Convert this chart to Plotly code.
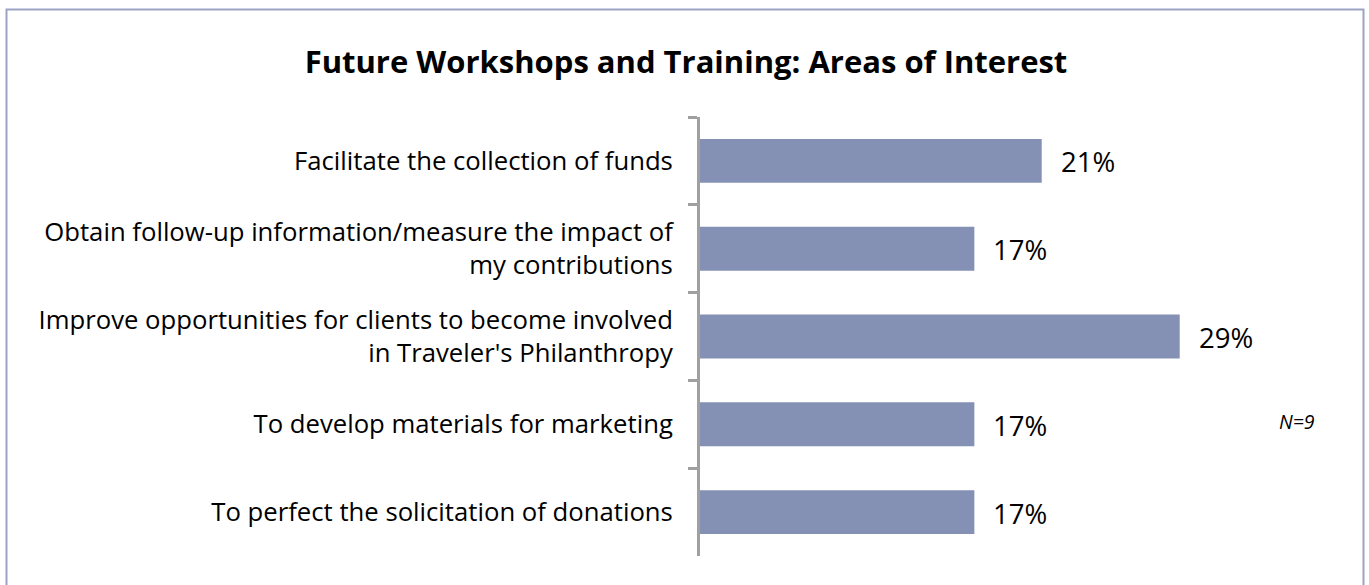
import plotly.graph_objects as go

categories = [
    "Facilitate the collection of funds",
    "Obtain follow-up information/measure the impact of<br>my contributions",
    "Improve opportunities for clients to become involved<br>in Traveler's Philanthropy",
    "To develop materials for marketing",
    "To perfect the solicitation of donations",
]
values = [20.8, 16.7, 29.2, 16.7, 16.7]
value_labels = ["21%", "17%", "29%", "17%", "17%"]

bar_color = "#8490B4"
font_family = "'Open Sans', 'Noto Sans', sans-serif"

fig = go.Figure()
fig.add_trace(go.Bar(
    y=categories, x=values, orientation="h",
    marker=dict(color=bar_color, line=dict(width=0)),
    hoverinfo="skip",
))

for c, v, t in zip(categories, values, value_labels):
    fig.add_annotation(x=v, y=c, text=t, showarrow=False, xanchor="left", yanchor="middle",
                       xshift=17, yshift=-1,
                       font=dict(size=27.5, color="#000000", family=font_family))

W, H = 1369, 585
L, R, T, B = 700, 94, 117, 29
pw, ph = W - L - R, H - T - B

def px_x(p):
    return (p - L) / pw

def px_y(p):
    return (H - B - p) / ph

fig.add_shape(type="rect", xref="paper", yref="paper",
              x0=px_x(6.5), x1=px_x(1363.5), y0=px_y(600), y1=px_y(9.5),
              line=dict(color="#9EA3C3", width=2), fillcolor="rgba(0,0,0,0)", layer="below")

fig.add_annotation(xref="paper", yref="paper", x=px_x(1297), y=px_y(421),
                   xanchor="center", yanchor="middle",
                   text="<i>N=9</i>", showarrow=False,
                   font=dict(size=19.5, color="#000000", family=font_family))

fig.update_layout(
    width=W, height=H,
    margin=dict(l=L, r=R, t=T, b=B),
    paper_bgcolor="white", plot_bgcolor="white",
    bargap=0.5,
    showlegend=False,
    title=dict(text="<b>Future Workshops and Training: Areas of Interest</b>",
               x=686 / W, xanchor="center",
               y=1 - 62 / H, yanchor="middle",
               font=dict(size=31, color="#000000", family=font_family)),
    font=dict(family=font_family, color="#000000"),
    xaxis=dict(range=[0, 35], visible=False, fixedrange=True),
    yaxis=dict(
        type="category", autorange="reversed",
        showline=True, linecolor="#A0A0A0", linewidth=3,
        ticks="outside", tickson="boundaries", ticklen=9, tickcolor="#A0A0A0", tickwidth=3,
        tickfont=dict(size=25.7, color="#000000", family=font_family),
        ticklabelstandoff=19,
        showgrid=False, zeroline=False, fixedrange=True,
    ),
)

fig.write_html("out.html", config={"displayModeBar": False},
               post_script="document.body.style.margin='0';document.body.style.overflow='hidden';")
